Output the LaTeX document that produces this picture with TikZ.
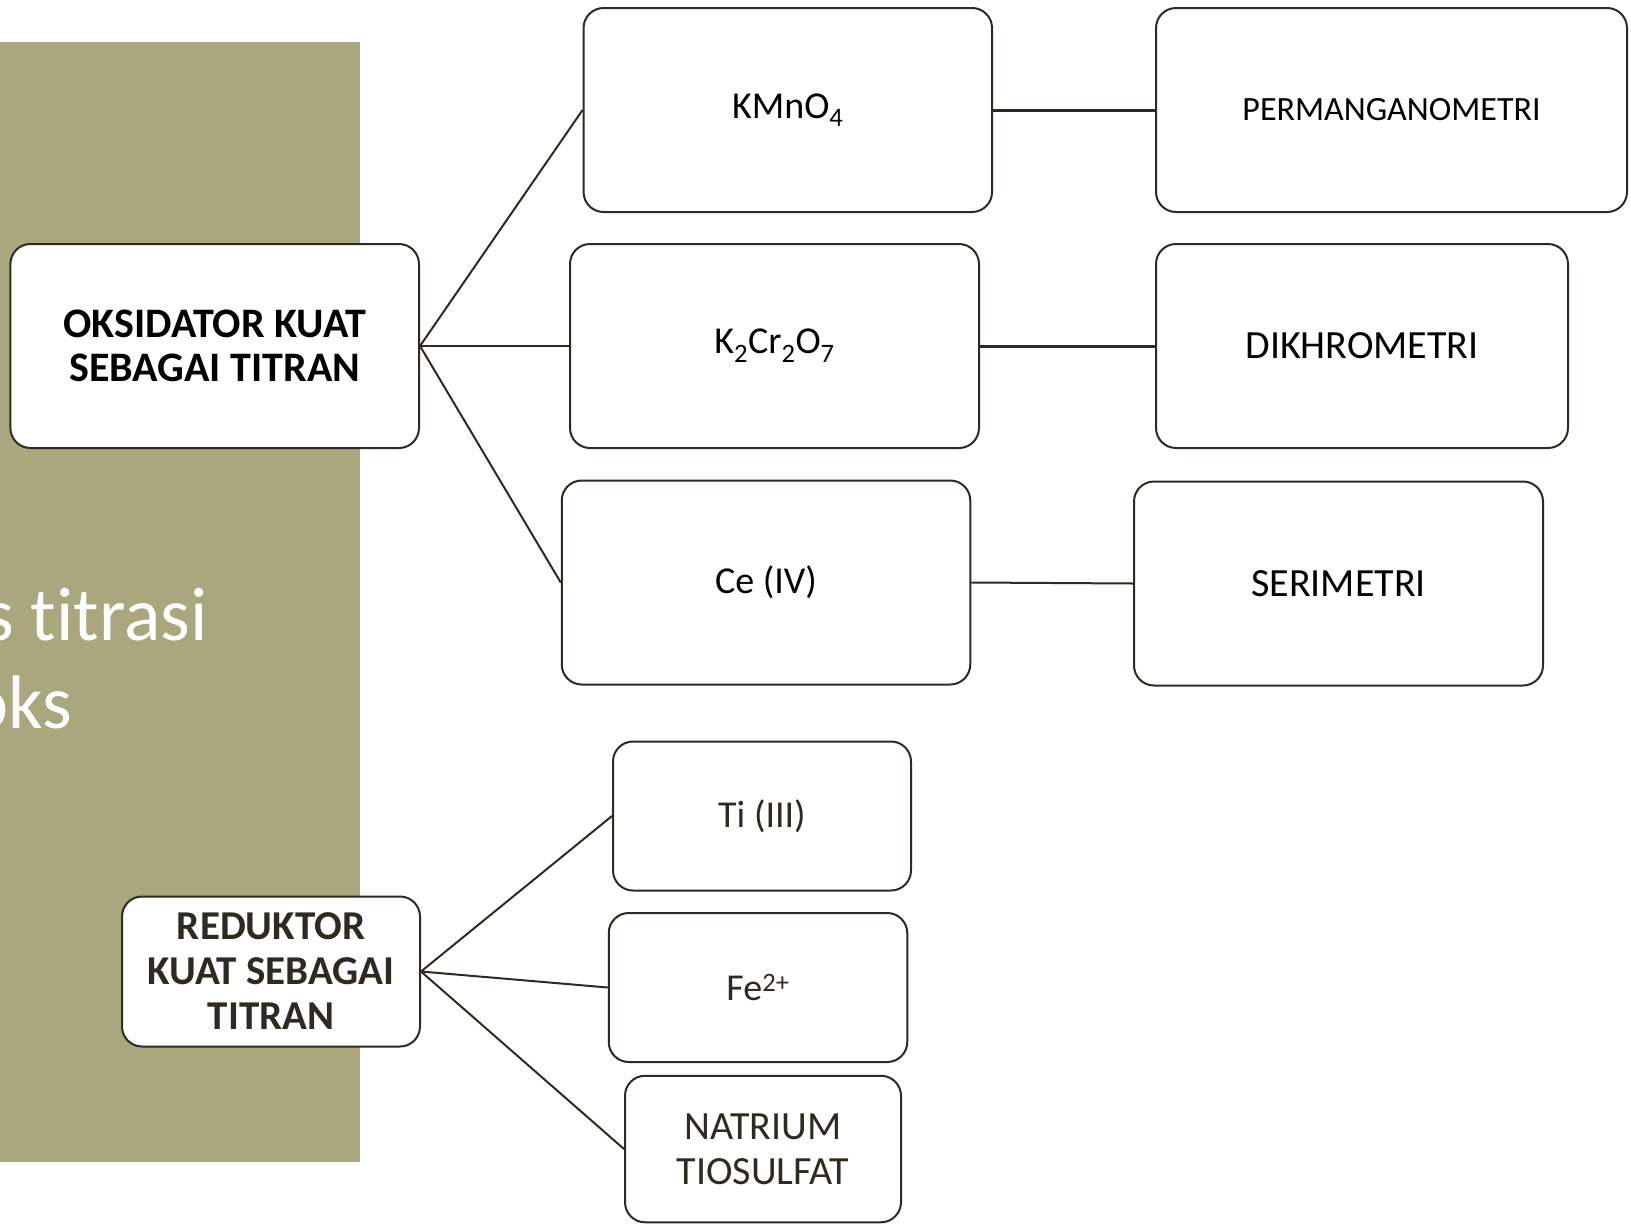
\documentclass[tikz,border=0pt]{standalone}
\usepackage{fontspec}
\setmainfont{Carlito}[Ligatures=NoCommon]
\definecolor{olive}{RGB}{170,167,126}
\definecolor{ink}{RGB}{46,42,34}
\begin{document}
\begin{tikzpicture}[x=1pt,y=-1pt,
  box/.style={draw=ink,line width=2pt,fill=white,rounded corners=20pt,inner sep=0pt,align=center},
  conn/.style={draw=ink,line width=2pt},
  big/.style={font=\fontsize{38}{44}\selectfont},
  caps/.style={font=\fontsize{40}{45}\selectfont},
  mid/.style={font=\fontsize{34}{40}\selectfont},
  bigb/.style={font=\bfseries\fontsize{42}{44}\selectfont},
  redb/.style={font=\bfseries\fontsize{41}{45}\selectfont}]
\useasboundingbox (0,0) rectangle (1631,1224);
\clip (0,0) rectangle (1631,1224);
\fill[olive] (0,42) rectangle (360,1162);
\node[anchor=base east,text=white,font=\fontsize{76}{88}\selectfont,inner sep=0pt] (t1) at (208,640) {s titrasi};
\node[anchor=base east,text=white,font=\fontsize{76}{88}\selectfont,inner sep=0pt] (t2) at (72,728) {oks};
\node[box,bigb,text=black,minimum width=408.6pt,minimum height=204pt] (oks) at (214.7,346) {OKSIDATOR KUAT\\SEBAGAI TITRAN};
\node[box,big,text=black,minimum width=408.5pt,minimum height=204pt] (kmno) at (787.8,110) {KMnO\textsubscript{4}};
\node[box,mid,text=black,minimum width=471pt,minimum height=204pt] (perm) at (1391.5,110) {PERMANGANOMETRI};
\node[box,big,text=black,minimum width=409pt,minimum height=204pt] (kcr) at (774.5,346) {K\textsubscript{2}Cr\textsubscript{2}O\textsubscript{7}};
\node[box,caps,text=black,minimum width=412pt,minimum height=204pt] (dik) at (1362,346) {DIKHROMETRI};
\node[box,big,text=black,minimum width=408.5pt,minimum height=204pt] (ce) at (766,582.5) {Ce (IV)};
\node[box,caps,text=black,minimum width=409pt,minimum height=204pt] (ser) at (1338.5,583.5) {SERIMETRI};
\node[box,big,text=ink,minimum width=298pt,minimum height=149pt] (ti) at (762,816) {Ti (III)};
\node[box,big,text=ink,minimum width=298.5pt,minimum height=149pt] (fe) at (758,987.5) {Fe\textsuperscript{2+}};
\node[box,caps,text=ink,minimum width=276pt,minimum height=146.5pt] (nat) at (763,1149) {NATRIUM\\TIOSULFAT};
\node[box,redb,text=ink,minimum width=298pt,minimum height=150pt] (red) at (271,971.5) {REDUKTOR\\KUAT SEBAGAI\\TITRAN};
\draw[conn] (oks.east) -- (kmno.west);
\draw[conn] (oks.east) -- (kcr.west);
\draw[conn] (oks.east) -- (ce.west);
\draw[conn,line width=3pt] (kmno.east) -- (perm.west);
\draw[conn,line width=3pt] (kcr.east) -- (dik.west);
\draw[conn] (ce.east) -- (ser.west);
\draw[conn] (red.east) -- (ti.west);
\draw[conn] (red.east) -- (fe.west);
\draw[conn] (red.east) -- (nat.west);
\end{tikzpicture}
\end{document}
